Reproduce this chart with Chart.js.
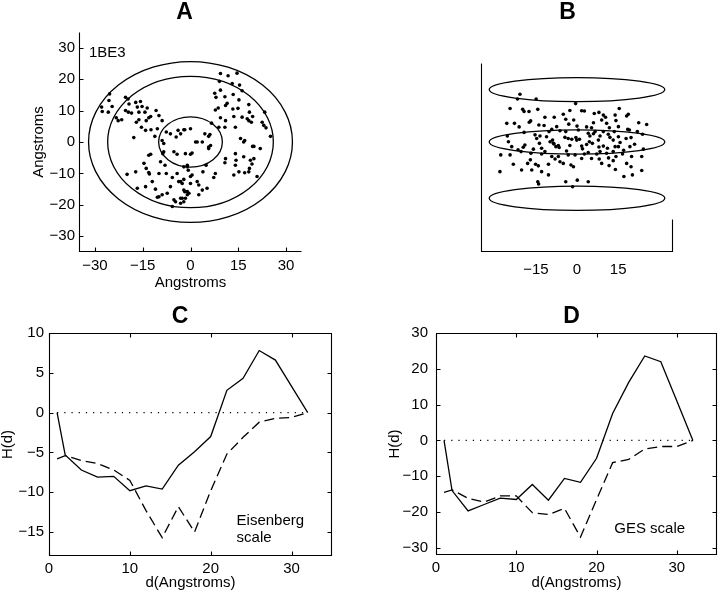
<!DOCTYPE html>
<html><head><meta charset="utf-8">
<script src="https://cdn.jsdelivr.net/npm/chart.js@4"></script>
<style>
html,body{margin:0;padding:0;background:#fff;}
#wrap{position:relative;width:720px;height:597px;overflow:hidden;background:#fff;}
canvas{position:absolute;}
</style></head><body>
<div id="wrap">
<canvas id="cA" width="360" height="298" style="left:0;top:0;width:360px;height:298px"></canvas>
<canvas id="cB" width="360" height="298" style="left:360px;top:0;width:360px;height:298px"></canvas>
<canvas id="cC" width="360" height="299" style="left:0;top:298px;width:360px;height:299px"></canvas>
<canvas id="cD" width="360" height="299" style="left:360px;top:298px;width:360px;height:299px"></canvas>
</div>
<script>
// ---------- DATA ----------
// Panel A: residue positions projected on membrane plane (Angstroms)
const A_X = [-25.4,-25.6,-24.6,-27.9,-27.7,-25.8,-20.4,-19.6,-19.3,-20.4,-19.5,-18.5,-23.3,-22.7,-21.6,-17.2,-15.7,-15.2,-16.7,-16.2,-14.3,-13.6,-13.1,-12.5,-13.9,-10.8,-9.9,-8.9,-16.2,-17.0,-15.4,-14.1,-12.4,-11.2,-17.8,-10.4,-7.6,-6.3,-4.5,-3.9,-1.8,-8.4,-8.9,
 9.4,11.8,14.6,9.1,13.1,15.4,16.2,7.6,8.0,9.4,10.8,13.4,15.2,11.5,11.0,8.7,7.8,13.3,14.9,18.3,18.5,17.8,18.3,19.1,19.5,23.3,22.5,23.0,23.7,25.1,16.2,13.6,9.4,8.9,10.8,14.1,11.0,6.6,0,-2.1,-3.1,6.1,15.7,17.0,19.5,21.9,1.6,3.7,5.7,6.3,
 -8.4,-8.7,-5.2,-4.2,-1.6,-13.1,-12.5,-9.4,-8.0,-1.0,-14.6,-13.9,-13.1,-12.9,-17.2,-19.9,-12.0,-9.9,-7.6,-5.7,-4.2,-3.7,-2.6,-2.1,-1.0,-16.7,-14.1,-11.0,-9.9,-8.9,-7.3,-6.3,-5.2,-4.7,-3.1,-3.1,-1.6,-10.4,-5.7,
 2.1,5.7,0.5,0,-1.0,-0.7,4.9,-2.1,0.5,0,3.9,7.8,7.3,-3.1,-2.1,0,2.1,2.6,5.2,3.7,-1.8,-1.0,-2.6,-0.5,2.6,11.0,10.8,14.1,14.3,14.1,16.7,18.8,19.9,19.3,18.5,18.3,17.0,15.2,13.6,19.9,20.9,-2.1,16.7,4.5,5.7];
const A_Y = [15.3,13.2,11.3,11.1,9.7,9.5,14.2,13.7,12.1,10.0,9.5,9.2,7.7,6.8,7.1,12.6,12.9,11.3,11.1,9.5,9.5,10.8,7.7,8.1,6.8,10.0,8.4,6.8,7.1,6.3,4.7,3.7,3.9,1.8,1.4,4.2,3.2,2.6,1.6,3.7,3.9,-0.5,0.5,
 21.8,21.1,21.9,19.3,18.6,18.1,16.3,15.5,14.2,16.5,14.4,15.1,13.4,12.3,11.6,10.8,10.2,10.5,10.7,11.9,9.5,7.4,6.8,6.3,8.1,9.5,6.3,5.3,4.5,1.8,7.9,8.1,7.7,4.7,4.7,4.7,6.8,6.0,4.2,3.9,2.6,2.4,1.1,0.5,-1.4,-2.1,0,0,-1.6,-1.1,
 -3.1,-3.7,-3.1,-3.9,-3.7,-4.2,-3.9,-6.3,-7.4,-7.9,-6.8,-8.4,-9.7,-10.2,-9.5,-10.3,-12.6,-10.0,-10.0,-11.3,-10.0,-12.6,-13.2,-15.3,-15.8,-14.7,-14.2,-15.0,-17.4,-16.8,-16.3,-14.2,-18.4,-19.0,-17.9,-19.5,-17.9,-17.6,-20.5,
 0,-2.1,-3.5,-3.9,-7.4,-9.0,-7.4,-7.9,-10.5,-11.0,-9.5,-10.0,-11.3,-12.6,-11.9,-13.2,-12.6,-13.7,-14.7,-15.3,-15.8,-16.8,-17.9,-16.3,-16.8,-5.3,-6.6,-3.7,-5.8,-7.4,-4.7,-5.8,-5.3,-7.0,-8.4,-9.5,-9.8,-9.5,-10.5,-1.4,-11.0,-19.0,0,2.6,1.8];

// Panel B: side view (x in Angstroms, vertical = depth)
const B_X = [-20.8,-21.7,-14.9,-0.5,-24.4,-19.8,-19.3,-17.5,-14.3,-2.6,1.7,2.7,6.3,8.0,9.6,10.4,15.4,18.1,18.7,13.9,
 -25.6,-22.8,-21.1,-17.4,-16.9,-13.9,-11.7,-8.3,-5.0,-4.1,-1.2,0,3.5,5.3,6.0,9.0,10.8,11.8,14.2,15.1,18.5,22.5,25.4,
 -25.4,-25.0,-19.3,-15.3,-14.7,-13.5,-10.2,-9.2,-7.4,-6.2,-4.1,-3.2,-0.4,0.9,0.5,4.1,4.7,8.4,9.6,11.4,13.6,15.1,17.9,19.1,19.7,22.0,23.9,
 -23.8,-19.6,-19.0,-15.9,-13.7,-12.9,-9.8,-8.6,-7.7,-6.8,-4.4,-2.6,-0.1,1.7,3.5,4.5,5.6,8.0,9.6,11.1,12.0,13.9,15.7,19.3,24.2,
 -27.8,-24.4,-20.4,-16.8,-12.9,-11.7,-9.2,-6.8,-3.8,-3.2,-0.7,2.7,4.1,7.2,8.4,10.8,13.2,14.2,16.6,19.9,23.6,
 -28.1,-23.2,-20.2,-18.0,-16.5,-15.1,-14.1,-12.9,-10.4,-10.4,-8.0,-6.2,-5.0,-2.2,-1.3,1.7,5.3,8.1,9.0,11.7,13.2,14.0,17.1,18.1,19.7,20.2,23.6,
 -14.3,-14.0,-4.1,-1.6,0.1,4.1,
 -11.1,-8.9,-8.4,-1.9,6.6,7.8,13.2,15.1,-21.5,-17.0,-6.5,2.0,11.5,17.0,-12.0,-3.0,6.0,21.0];
const B_Y = [17.4,15.7,15.7,14.0,12.2,11.9,11.1,11.1,11.9,11.5,11.4,11.3,10.4,10.8,9.8,9.0,12.2,9.5,10.1,9.8,
 6.8,6.8,5.5,7.2,7.7,6.2,9.0,9.0,10.1,8.3,8.0,5.8,5.5,5.2,7.0,8.0,6.8,5.2,7.8,5.6,4.6,7.0,6.4,
 2.2,0.1,3.5,2.6,1.3,2.2,3.8,4.6,5.6,4.1,3.8,1.3,1.6,1.0,4.4,3.2,2.2,2.2,3.8,2.8,3.8,1.9,1.3,4.4,1.6,3.8,2.8,
 -1.7,-1.9,-1.1,-2.6,-0.5,-2.3,0.1,-0.5,-1.7,-1.3,1.7,-1.3,0.7,-1.5,-0.9,0.1,-0.5,-1.8,-1.5,-2.3,1.7,-1.7,-0.2,-1.7,-2.6,
 -4.7,-4.7,-3.5,-4.1,-4.4,-3.5,-5.3,-5.3,-3.3,-4.7,-4.7,-4.4,-3.8,-4.4,-3.5,-4.1,-3.5,-5.3,-4.4,-5.3,-5.3,
 -10.8,-8.1,-10.2,-7.8,-10.2,-8.1,-8.7,-10.8,-12.0,-8.1,-6.2,-7.2,-7.8,-8.4,-9.0,-6.0,-6.0,-6.2,-7.8,-8.6,-6.8,-10.0,-12.6,-7.8,-9.0,-12.0,-10.4,
 -14.5,-15.3,-14.5,-16.3,-13.9,-14.5,
 1.9,0.7,-0.7,1.0,3.8,0.7,0.7,-1.7,-2.8,-6.5,-2.0,-2.5,-5.8,-3.0,6.0,6.5,3.0,-0.8];

// Panels C and D: hydrophobicity profile H(d) vs d (Angstroms)
const D_X = [1,2,4,6,8,10,12,14,16,18,20,22,24,26,28,30,32];
const C_SOLID  = [0,-5.3,-7.2,-8.1,-8.0,-9.8,-9.2,-9.6,-6.6,-4.9,-3.0,2.8,4.3,7.8,6.6,3.3,0];
const C_DASHED = [-5.8,-5.4,-6.0,-6.4,-7.2,-8.5,-12.3,-15.7,-11.8,-15.0,-9.8,-5.2,-3.1,-1.2,-0.7,-0.6,0];
const D_SOLID  = [0,-14.0,-19.7,-17.9,-16.1,-16.5,-12.3,-16.7,-10.6,-11.7,-5.0,7.5,16.2,23.6,22.0,11.0,0];
const D_DASHED = [-14.5,-13.8,-16.2,-17.2,-15.5,-15.5,-20.2,-20.7,-19.0,-27.0,-16.5,-6.2,-5.3,-2.4,-1.7,-1.7,0];
const ZERO_X = [1, 32];
const ZERO_Y = [0, 0];

// Tick values
const A_XTICKS = [-30,-15,0,15,30];
const A_YTICKS = [-30,-20,-10,0,10,20,30];
const B_XTICKS = [-15,0,15];
const C_XTICKS = [0,10,20,30];
const C_YTICKS = [-15,-10,-5,0,5,10];
const D_XTICKS = [0,10,20,30];
const D_YTICKS = [-30,-20,-10,0,10,20,30];

// Ring geometry (data units)
const A_RINGS_RX = [10, 26, 32];
const A_RINGS_RY = [8, 20.9, 25.6];
const B_DISC_Z = [19.1, 0, -20.5];
const B_DISC_RX = 32;
const B_DISC_RZ = 4.4;

// ---------- RENDERING ----------
const FONT = '"Liberation Sans", Arial, Helvetica, sans-serif';
const fmt = v => v < 0 ? '\u2212' + Math.abs(v) : String(v);
const pts = (X, Y) => X.map((x, i) => ({x: x, y: Y[i]}));

function axis(o) {
  return {
    type: 'linear', position: o.pos, min: o.min, max: o.max,
    display: o.display !== false,
    grid: {display: false, drawTicks: false},
    border: {display: false},
    ticks: {autoSkip: false, maxRotation: 0, padding: o.pad, color: '#000',
      font: {family: FONT, size: 15}, callback: v => fmt(v)},
    afterBuildTicks: s => { s.ticks = (o.ticks || []).map(v => ({value: v})); },
    afterFit: s => { if (o.w != null) s.width = o.w; if (o.h != null) s.height = o.h; },
    title: o.title ? {display: true, text: o.title, color: '#000',
      font: {family: FONT, size: 15, lineHeight: o.lh || 1.2}, padding: o.tpad} : {display: false}
  };
}

function deco(cfg) {
  return {
    id: 'deco',
    beforeDatasetsDraw(chart) {
      const ctx = chart.ctx, xs = chart.scales.x, ys = chart.scales.y;
      ctx.save();
      ctx.strokeStyle = '#000'; ctx.lineWidth = 1.3;
      (cfg.ellipses || []).forEach(e => {
        const cx = xs.getPixelForValue(e.cx), cy = ys.getPixelForValue(e.cy);
        const rx = Math.abs(xs.getPixelForValue(e.cx + e.rx) - cx);
        const ry = Math.abs(ys.getPixelForValue(e.cy + e.ry) - cy);
        ctx.beginPath(); ctx.ellipse(cx, cy, rx, ry, 0, 0, Math.PI * 2); ctx.stroke();
      });
      ctx.restore();
    },
    afterDraw(chart) {
      const ctx = chart.ctx, a = chart.chartArea, xs = chart.scales.x, ys = chart.scales.y;
      const L = Math.round(a.left) + 0.5, R = Math.round(a.right) - 0.5;
      const T = Math.round(a.top) + 0.5, B = Math.round(a.bottom) - 0.5;
      const tl = cfg.tickLen || 0;
      ctx.save();
      ctx.strokeStyle = '#000'; ctx.lineWidth = 1.1;
      ctx.beginPath();
      if (cfg.frame === 'box') {
        ctx.rect(L, T, R - L, B - T);
      } else {
        ctx.moveTo(L, T); ctx.lineTo(L, B); ctx.lineTo(R, B);
        if (cfg.rightTo != null) { ctx.lineTo(R, Math.round(ys.getPixelForValue(cfg.rightTo)) + 0.5); }
      }
      ctx.stroke();
      if (tl) {
        ctx.beginPath();
        xs.ticks.forEach(t => {
          const p = Math.round(xs.getPixelForValue(t.value)) + 0.5;
          ctx.moveTo(p, B); ctx.lineTo(p, B - tl);
          if (cfg.frame === 'box') { ctx.moveTo(p, T); ctx.lineTo(p, T + tl); }
        });
        if (ys.options.display) ys.ticks.forEach(t => {
          const p = Math.round(ys.getPixelForValue(t.value)) + 0.5;
          ctx.moveTo(L, p); ctx.lineTo(L + tl, p);
          if (cfg.frame === 'box') { ctx.moveTo(R, p); ctx.lineTo(R - tl, p); }
        });
        ctx.stroke();
      }
      ctx.fillStyle = '#000';
      ctx.textBaseline = 'middle'; ctx.textAlign = 'left';
      ctx.font = '15px ' + FONT;
      (cfg.texts || []).forEach(t => {
        ctx.fillText(t.text, xs.getPixelForValue(t.x), ys.getPixelForValue(t.y));
      });
      if (cfg.label) {
        ctx.font = 'bold 23px ' + FONT; ctx.textAlign = 'center';
        ctx.fillText(cfg.label.text, cfg.label.x, cfg.label.y);
      }
      ctx.restore();
    }
  };
}

const common = (layoutPad) => ({
  responsive: false, animation: false, events: [],
  layout: {padding: layoutPad},
  plugins: {legend: {display: false}, tooltip: {enabled: false}, title: {display: false}}
});

const dotDs = (X, Y) => ({data: pts(X, Y), showLine: false, pointRadius: 1.8,
  pointBackgroundColor: '#000', pointBorderWidth: 0, pointHoverRadius: 0});
const lineDs = (X, Y, dash, w) => ({data: pts(X, Y), showLine: true, pointRadius: 0,
  borderColor: '#000', borderWidth: w || 1.3, borderDash: dash || [], tension: 0, fill: false});

// Panel A
new Chart(document.getElementById('cA'), {
  type: 'scatter',
  data: {datasets: [dotDs(A_X, A_Y)]},
  options: Object.assign(common({left: 0, right: 58, top: 32, bottom: 0}), {
    scales: {
      x: axis({pos: 'bottom', min: -35, max: 35, ticks: A_XTICKS, pad: 5, h: 46,
        title: 'Angstroms', tpad: {top: 0, bottom: 6}}),
      y: axis({pos: 'left', min: -35, max: 35, ticks: A_YTICKS, pad: 4, w: 79,
        title: 'Angstroms', tpad: {top: 30, bottom: 0}})
    }
  }),
  plugins: [deco({frame: 'L', tickLen: 4,
    ellipses: A_RINGS_RX.map((rx, i) => ({cx: 0, cy: 0, rx: rx, ry: A_RINGS_RY[i]})),
    texts: [{text: '1BE3', x: -31.9, y: 28.3}],
    label: {text: 'A', x: 184.5, y: 13}})]
});

// Panel B
new Chart(document.getElementById('cB'), {
  type: 'scatter',
  data: {datasets: [dotDs(B_X, B_Y)]},
  options: Object.assign(common({left: 121, right: 47, top: 63, bottom: 0}), {
    scales: {
      x: axis({pos: 'bottom', min: -35, max: 35, ticks: B_XTICKS, pad: 9, h: 46}),
      y: axis({pos: 'left', min: -40.1, max: 28.8, display: false})
    }
  }),
  plugins: [deco({frame: 'L', tickLen: 0, rightTo: -28.1,
    ellipses: B_DISC_Z.map(z => ({cx: 0, cy: z, rx: B_DISC_RX, ry: B_DISC_RZ})),
    label: {text: 'B', x: 207.5, y: 12.5}})]
});

// Panel C
new Chart(document.getElementById('cC'), {
  type: 'scatter',
  data: {datasets: [
    lineDs(ZERO_X, ZERO_Y, [1.2, 6], 1.2),
    lineDs(D_X, C_DASHED, [10, 5]),
    lineDs(D_X, C_SOLID)
  ]},
  options: Object.assign(common({left: 0, right: 28, top: 35, bottom: 0}), {
    scales: {
      x: axis({pos: 'bottom', min: 0, max: 35, ticks: C_XTICKS, pad: 4, h: 41,
        title: 'd(Angstroms)', tpad: {top: 0, bottom: 5}}),
      y: axis({pos: 'left', min: -18, max: 10, ticks: C_YTICKS, pad: 5, w: 49,
        title: 'H(d)', lh: 1.0, tpad: {top: 0, bottom: 0}})
    }
  }),
  plugins: [deco({frame: 'box', tickLen: 4,
    texts: [{text: 'Eisenberg', x: 23.2, y: -13.6}, {text: 'scale', x: 23.2, y: -15.7}],
    label: {text: 'C', x: 180, y: 18.7}})]
});

// Panel D
new Chart(document.getElementById('cD'), {
  type: 'scatter',
  data: {datasets: [
    lineDs(ZERO_X, ZERO_Y, [1.2, 6], 1.2),
    lineDs(D_X, D_DASHED, [10, 5]),
    lineDs(D_X, D_SOLID)
  ]},
  options: Object.assign(common({left: 0, right: 3, top: 35, bottom: 0}), {
    scales: {
      x: axis({pos: 'bottom', min: 0, max: 35, ticks: D_XTICKS, pad: 4, h: 42,
        title: 'd(Angstroms)', tpad: {top: 0, bottom: 5}}),
      y: axis({pos: 'left', min: -32, max: 30, ticks: D_YTICKS, pad: 8, w: 76,
        title: 'H(d)', tpad: {top: 26, bottom: 0}})
    }
  }),
  plugins: [deco({frame: 'box', tickLen: 4,
    texts: [{text: 'GES scale', x: 22.2, y: -24.6}],
    label: {text: 'D', x: 211.5, y: 18.7}})]
});
</script>
</body></html>
